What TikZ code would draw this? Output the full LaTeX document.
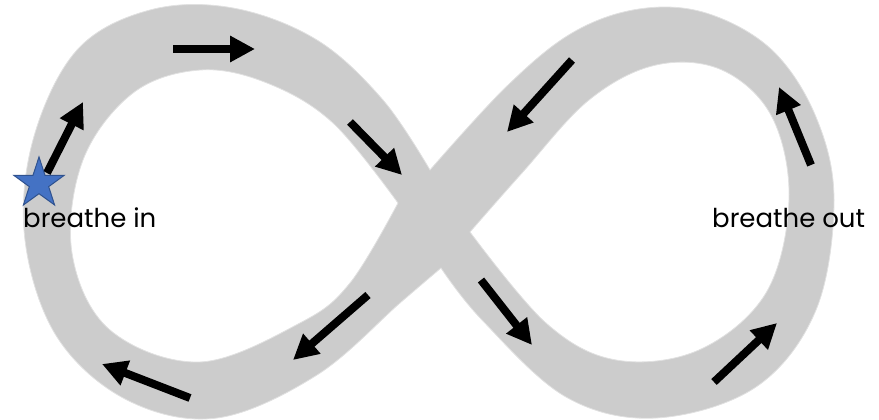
\documentclass[tikz,border=0pt]{standalone}
\usepackage{fontspec}
\setmainfont{Poppins}
\usetikzlibrary{arrows.meta,shapes.geometric}
\definecolor{bandgray}{RGB}{204,204,204}
\definecolor{bandedge}{RGB}{225,225,225}
\definecolor{starblue}{RGB}{68,114,196}
\definecolor{staredge}{RGB}{47,82,143}
\tikzset{
  band/.style={fill=bandgray, draw=bandedge, line width=0.8pt, even odd rule},
  flowarrow/.style={line width=8pt, -{Triangle[length=25pt,width=25pt]}},
  breathlabel/.style={inner sep=0pt, font=\fontsize{26}{31}\selectfont}
}
\begin{document}
\begin{tikzpicture}[x=1pt, y=-1pt]
        \useasboundingbox (0,0) rectangle (879,420);
        % Band of the figure eight: outer outline, then the two holes
        \path[band]
          (430,170) -- plot[smooth, tension=0.6] coordinates {(430,170) (506,87) (572,33) (639,9) (706,13) (772,50) (816,117) (834,200) (816,310) (756,387) (656,418) (566,397) (482,320) (441,268)}
          -- plot[smooth, tension=0.6] coordinates {(441,268) (400,303) (317,375) (217,418) (127,400) (57,337) (25,240) (33,140) (77,50) (150,10) (233,8) (317,40) (383,100) (430,170)}
          -- cycle
          (398,203) -- plot[smooth, tension=0.6] coordinates {(398,203) (333,123) (267,83) (200,70) (133,93) (83,160) (72,253) (110,330) (200,362) (300,323) (350,283) (398,203)}
          -- cycle
          (470,232) -- plot[smooth, tension=0.6] coordinates {(470,232) (522,173) (589,100) (656,65) (722,70) (772,117) (789,200) (766,293) (699,350) (616,360) (546,323) (470,232)}
          -- cycle;

        % Direction arrows along the band
        \foreach \xa/\ya/\xb/\yb in {47/173/83/102, 173/49/255/49, 350/122/402/175,
                                     572/60/507/132, 811/165/779/87, 481/280/532/345,
                                     714/382/777/323, 368/295/293/360, 190/398/102/364} {
            \draw[flowarrow] (\xa,\ya) -- (\xb,\yb);
        }

        % Start marker
        \node[star, star points=5, star point ratio=2.6, minimum size=53pt, inner sep=0pt,
              fill=starblue, draw=staredge, line width=1pt] (start) at (39,183.5) {};

        \node[breathlabel, anchor=base west] (inlabel) at (23,227) {breathe in};
        \node[breathlabel, anchor=base west] (outlabel) at (712,227) {breathe out};
\end{tikzpicture}
\end{document}
